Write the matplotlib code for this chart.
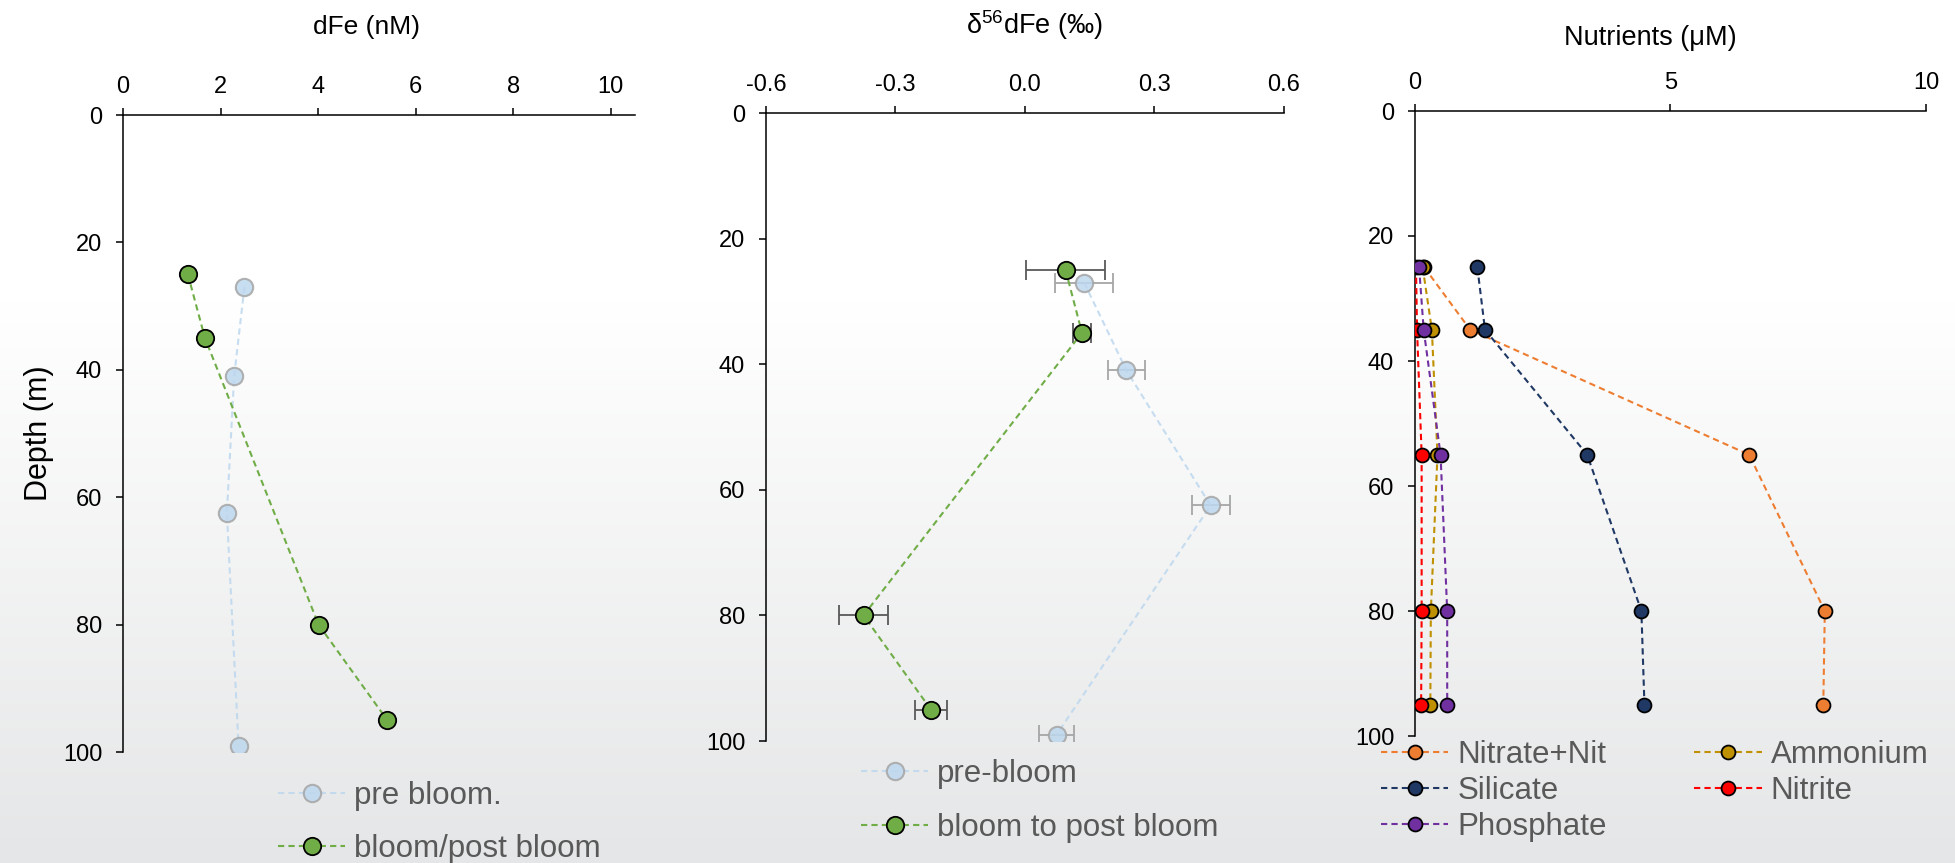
import numpy as np
import matplotlib
matplotlib.use('agg')
import matplotlib.pyplot as plt
from matplotlib.colors import LinearSegmentedColormap

plt.rcParams['font.family'] = ['Liberation Sans', 'DejaVu Sans']

# dFe (nM)
fe_pre_depth = [27, 41, 62.5, 99]
fe_pre = [2.49, 2.28, 2.13, 2.37]
fe_post_depth = [25, 35, 80, 95]
fe_post = [1.33, 1.68, 4.01, 5.42]

# d56Fe (permil)
iso_pre_depth = [27, 41, 62.5, 99]
iso_pre = [0.137, 0.235, 0.43, 0.073]
iso_pre_err = [0.068, 0.042, 0.044, 0.041]
iso_post_depth = [25, 35, 80, 95]
iso_post = [0.094, 0.132, -0.374, -0.218]
iso_post_err = [0.092, 0.02, 0.057, 0.037]

# nutrients (uM)
nut_depth = [25, 35, 55, 80, 95]
nitrate = [0.18, 1.08, 6.54, 8.02, 7.99]
silicate = [1.22, 1.37, 3.37, 4.43, 4.49]
phosphate = [0.08, 0.17, 0.5, 0.63, 0.63]
ammonium = [0.15, 0.33, 0.44, 0.31, 0.30]
nitrite = [0.02, 0.04, 0.13, 0.13, 0.12]

W, H = 1956, 863
fig = plt.figure(figsize=(W / 100, H / 100), dpi=100)

# background gradient, white on top fading to light grey
bg = fig.add_axes([0, 0, 1, 1], zorder=-10)
cmap = LinearSegmentedColormap.from_list(
    'bg', [(0, '#ffffff'), (0.35, '#ffffff'), (1, '#e5e6e7')])
bg.imshow(np.linspace(0, 1, 256)[:, None], aspect='auto', cmap=cmap,
          extent=[0, 1, 0, 1])
bg.axis('off')


def make_ax(left, right, top, bottom):
    ax = fig.add_axes([left / W, 1 - bottom / H, (right - left) / W,
                       (bottom - top) / H])
    ax.set_facecolor('none')
    ax.spines['right'].set_visible(False)
    ax.spines['bottom'].set_visible(False)
    for s in ('left', 'top'):
        ax.spines[s].set_linewidth(1.1)
    ax.xaxis.tick_top()
    ax.tick_params(axis='x', direction='out', length=5, width=1.1,
                   labelsize=17, pad=7)
    ax.tick_params(axis='y', direction='out', length=5, width=1.1,
                   labelsize=17, pad=10)
    ax.set_ylim(100, 0)
    ax.set_yticks([0, 20, 40, 60, 80, 100])
    return ax


dash = (0, (3, 2))
pre_kw = dict(color='#bdd7ee', ls=dash, lw=1.5, marker='o', ms=12.5,
              mfc='#bdd7ee', mec='#a5a5a5', mew=1.5, alpha=0.85)
post_kw = dict(color='#70ad47', ls=dash, lw=1.5, marker='o', ms=12.5,
               mfc='#70ad47', mec='black', mew=1.3)
leg_kw = dict(loc='upper left', frameon=False, fontsize=22.5,
              labelcolor='#595959', borderpad=0, borderaxespad=0,
              handlelength=2.16, handletextpad=0.28,
              bbox_transform=fig.transFigure)

# panel 1: dFe
ax1 = make_ax(123, 635, 115, 752)
ax1.plot(fe_pre, fe_pre_depth, label='pre bloom.', **pre_kw)
ax1.plot(fe_post, fe_post_depth, label='bloom/post bloom', **post_kw)
ax1.set_xlim(0, 10.5)
ax1.set_xticks([0, 2, 4, 6, 8, 10])
ax1.set_ylabel('Depth (m)', fontsize=22, va='center')
ax1.yaxis.set_label_coords((39 - 123) / 512, 0.5)
ax1.legend(bbox_to_anchor=(278 / W, 1 - 781 / H), labelspacing=0.72,
           **leg_kw)
fig.text(367 / W, 1 - 34 / H, 'dFe (nM)', ha='center', va='baseline',
         fontsize=19)

# panel 2: d56Fe
ax2 = make_ax(766, 1284, 113, 741)
ax2.errorbar(iso_pre, iso_pre_depth, xerr=iso_pre_err, fmt='none',
             ecolor='#a6a6a6', elinewidth=1.3, capsize=7, capthick=1.3)
ax2.errorbar(iso_post, iso_post_depth, xerr=iso_post_err, fmt='none',
             ecolor='#595959', elinewidth=1.3, capsize=7, capthick=1.3)
ax2.plot(iso_pre, iso_pre_depth, label='pre-bloom', **pre_kw)
ax2.plot(iso_post, iso_post_depth, label='bloom to post bloom', **post_kw)
ax2.set_xlim(-0.6, 0.6)
ax2.set_xticks([-0.6, -0.3, 0.0, 0.3, 0.6])
ax2.set_xticklabels(['%.1f' % v for v in [-0.6, -0.3, 0.0, 0.3, 0.6]])
ax2.legend(bbox_to_anchor=(861 / W, 1 - 759 / H), labelspacing=0.77,
           **leg_kw)
fig.text(1035 / W, 1 - 34 / H, r'$\mathregular{\delta^{56}}$dFe (‰)',
         ha='center', va='baseline', fontsize=19.5)

# panel 3: nutrients
ax3 = make_ax(1415, 1926, 111, 736)
nut_series = [('Nitrate+Nit', nitrate, '#ed7d31', 2),
              ('Silicate', silicate, '#203864', 2),
              ('Phosphate', phosphate, '#7030a0', 5),
              ('Ammonium', ammonium, '#bf9000', 3),
              ('Nitrite', nitrite, '#ff0000', 4)]
for name, vals, col, z in nut_series:
    ax3.plot(vals, nut_depth, color=col, ls=dash, lw=1.5, marker='o',
             ms=10, mfc=col, mec='black', mew=1.3, label=name, zorder=z)
ax3.set_xlim(0, 10)
ax3.set_xticks([0, 5, 10])
ax3.legend(bbox_to_anchor=(1381 / W, 1 - 740 / H), ncol=2,
           labelspacing=0.19, columnspacing=2.8, **leg_kw)
fig.text(1650 / W, 1 - 45 / H, 'Nutrients (μM)', ha='center',
         va='baseline', fontsize=19.5)

fig.savefig('out.png', dpi=100)
